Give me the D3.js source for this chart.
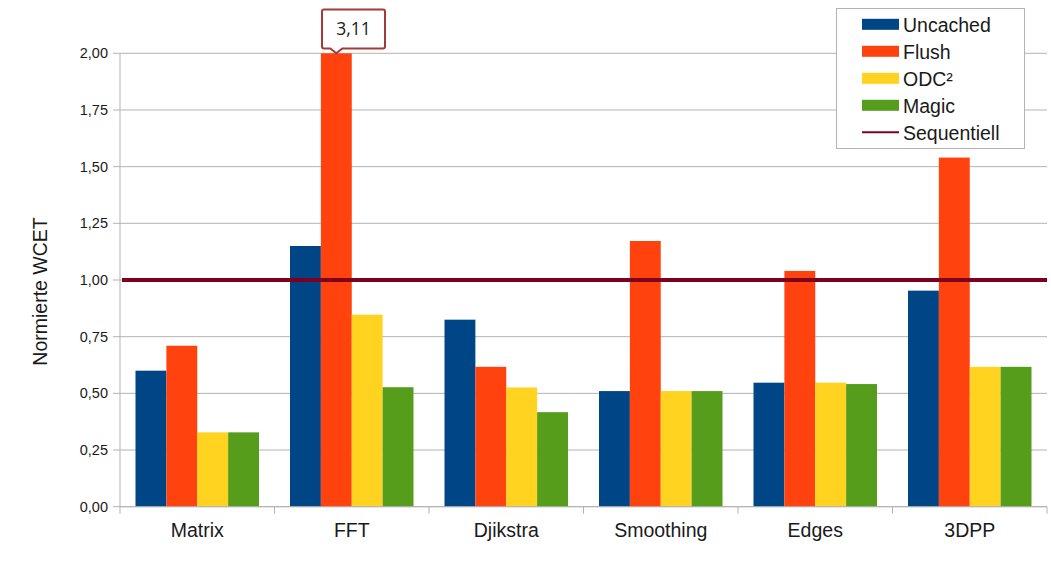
<!DOCTYPE html>
<html>
<head>
<meta charset="utf-8">
<script src="https://cdn.jsdelivr.net/npm/d3@7"></script>
<style>
  body { margin: 0; background: #fff; }
  text { font-family: "Liberation Sans", Arial, sans-serif; fill: #1a1a1a; }
</style>
</head>
<body>
<script>
// data
const categories = ["Matrix", "FFT", "Djikstra", "Smoothing", "Edges", "3DPP"];
const seriesNames = ["Uncached", "Flush", "ODC²", "Magic"];
const uncached = [0.60, 1.15, 0.825, 0.51, 0.547, 0.953];
const flush    = [0.71, 3.11, 0.617, 1.172, 1.04, 1.54];
const odc      = [0.328, 0.847, 0.526, 0.51, 0.547, 0.617];
const magic    = [0.328, 0.527, 0.417, 0.51, 0.541, 0.617];
const sequentiell = 1.0;
const yTicks = [0, 0.25, 0.5, 0.75, 1, 1.25, 1.5, 1.75, 2];
const colors = ["#004586", "#ff420e", "#ffd320", "#579d1c"];
const lineColor = "#7e0021";

const values = [uncached, flush, odc, magic];

const W = 1051, H = 568;
const plotL = 120, plotR = 1047, plotT = 53.3, plotB = 506.7;

const svg = d3.select("body").append("svg")
  .attr("width", W).attr("height", H);

const x0 = d3.scaleBand().domain(categories).range([plotL, plotR]).padding(0);
const x1 = d3.scaleBand().domain(d3.range(4))
  .range([15.5, x0.bandwidth() - 15.5]).padding(0);
const y = d3.scaleLinear().domain([0, 2]).range([plotB, plotT]);

// grid
svg.append("g").selectAll("line")
  .data(yTicks)
  .enter().append("line")
  .attr("x1", plotL - 7).attr("x2", plotR)
  .attr("y1", d => y(d)).attr("y2", d => y(d))
  .attr("stroke", "#b3b3b3").attr("stroke-width", 1);

// y axis
const yAxis = d3.axisLeft(y).tickValues(yTicks)
  .tickFormat(d => d3.format(".2f")(d).replace(".", ","))
  .tickSize(0).tickPadding(12);
const ga = svg.append("g").attr("transform", `translate(${plotL},0)`).call(yAxis);
ga.select(".domain").remove();
ga.selectAll("text").style("font-size", "14.5px")
  .style("font-family", "'Liberation Sans', Arial, sans-serif").attr("fill", "#1a1a1a");
svg.append("line").attr("x1", plotL).attr("x2", plotL)
  .attr("y1", plotT).attr("y2", plotB + 7)
  .attr("stroke", "#b3b3b3");

// bars
const groups = svg.append("g").selectAll("g")
  .data(categories)
  .enter().append("g")
  .attr("transform", d => `translate(${x0(d)},0)`);

groups.selectAll("rect")
  .data((c, i) => values.map((s, k) => ({ k: k, v: s[i] })))
  .enter().append("rect")
  .attr("x", d => x1(d.k))
  .attr("width", x1.bandwidth())
  .attr("y", d => y(Math.min(d.v, 2)))
  .attr("height", d => plotB - y(Math.min(d.v, 2)))
  .attr("fill", d => colors[d.k]);

// x axis
svg.append("line").attr("x1", plotL).attr("x2", plotR)
  .attr("y1", plotB).attr("y2", plotB).attr("stroke", "#b3b3b3");
const xAxis = d3.axisBottom(x0).tickSize(0);
const gx = svg.append("g").attr("transform", `translate(0,${plotB})`).call(xAxis);
gx.select(".domain").remove();
gx.selectAll("text").attr("y", 30).attr("dy", null)
  .style("font-size", "19.5px")
  .style("font-family", "'Liberation Sans', Arial, sans-serif").attr("fill", "#1a1a1a");
svg.append("g").selectAll("line")
  .data(categories.slice(1).concat(["end"]))
  .enter().append("line")
  .attr("x1", d => d === "end" ? plotR : x0(d))
  .attr("x2", d => d === "end" ? plotR : x0(d))
  .attr("y1", plotB).attr("y2", plotB + 7)
  .attr("stroke", "#b3b3b3");

// Sequentiell line
svg.append("line")
  .attr("x1", plotL + 2).attr("x2", plotR)
  .attr("y1", y(sequentiell)).attr("y2", y(sequentiell))
  .attr("stroke", lineColor).attr("stroke-width", 4);

// y label
svg.append("text")
  .attr("transform", `translate(47,${(218 + 365) / 2}) rotate(-90)`)
  .attr("text-anchor", "middle")
  .style("font-size", "19.5px")
  .text("Normierte WCET");

// callout for clipped bar
const cx = x0("FFT") + x1(1) + x1.bandwidth() / 2;
const bx0 = 322, bx1 = 385, by0 = 9.5, by1 = 48.5, tip = plotT;
svg.append("path")
  .attr("d", `M${bx0 + 2},${by0} H${bx1 - 2} Q${bx1},${by0} ${bx1},${by0 + 2} V${by1 - 2} Q${bx1},${by1} ${bx1 - 2},${by1}
    H${cx + 6} L${cx},${tip} L${cx - 6},${by1} H${bx0 + 2} Q${bx0},${by1} ${bx0},${by1 - 2} V${by0 + 2} Q${bx0},${by0} ${bx0 + 2},${by0} Z`)
  .attr("fill", "#fff").attr("stroke", "#a33a3a").attr("stroke-width", 2);
svg.append("text")
  .attr("x", (bx0 + bx1) / 2).attr("y", 35)
  .attr("text-anchor", "middle")
  .style("font-family", "'Open Sans', sans-serif")
  .style("font-size", "17.5px")
  .text(d3.format(".2f")(flush[1]).replace(".", ","));

// legend
const lg = svg.append("g");
lg.append("rect").attr("x", 836.5).attr("y", 8.5).attr("width", 188).attr("height", 140)
  .attr("fill", "#fff").attr("stroke", "#b3b3b3");
const legendItems = seriesNames.map((n, i) => ({ name: n, color: colors[i], line: false }))
  .concat([{ name: "Sequentiell", color: lineColor, line: true }]);
const rows = lg.selectAll("g").data(legendItems).enter().append("g")
  .attr("transform", (d, i) => `translate(0,${24.3 + i * 27})`);
rows.filter(d => !d.line).append("rect")
  .attr("x", 862).attr("y", -5.5).attr("width", 37).attr("height", 11)
  .attr("fill", d => d.color);
rows.filter(d => d.line).append("line")
  .attr("x1", 862).attr("x2", 899).attr("y1", 0).attr("y2", 0)
  .attr("stroke", d => d.color).attr("stroke-width", 2);
rows.append("text")
  .attr("x", 903).attr("y", 7.3)
  .style("font-size", "19.5px")
  .text(d => d.name);
</script>
</body>
</html>
